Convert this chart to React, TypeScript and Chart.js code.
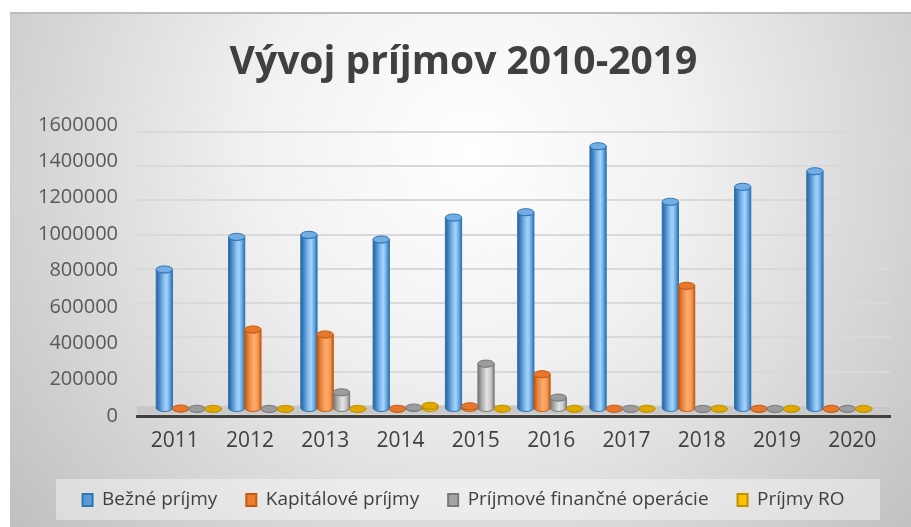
import React, { useEffect, useRef } from 'react';
import { Chart, registerables } from 'chart.js';

Chart.register(...registerables);

const chartTitle = 'Vývoj príjmov 2010-2019';
const categories = ['2011', '2012', '2013', '2014', '2015', '2016', '2017', '2018', '2019', '2020'];
const seriesNames = ['Bežné príjmy', 'Kapitálové príjmy', 'Príjmové finančné operácie', 'Príjmy RO'];
const bezne = [814000, 1004000, 1016000, 989000, 1117000, 1148000, 1533000, 1209000, 1296000, 1387000];
const kapitalove = [3000, 464000, 435000, 1500, 16000, 203000, 2000, 719000, 1500, 1500];
const financne = [1500, 1000, 98000, 8700, 265000, 67000, 1500, 1000, 1000, 1500];
const prijmyRO = [1000, 1000, 1000, 18700, 2000, 1500, 1500, 2000, 1500, 1000];
const yTicks = [0, 200000, 400000, 600000, 800000, 1000000, 1200000, 1400000, 1600000];

const seriesValues = [bezne, kapitalove, financne, prijmyRO];

type Stop = [number, string];
const barStyles: { stops: Stop[]; edge: string; cap: string; legend: string }[] = [
  {
    stops: [[0, '#2a5f95'], [0.18, '#4384c4'], [0.5, '#8fc5f4'], [0.65, '#a3d2fb'], [0.85, '#62a2db'], [1, '#2e6ea8']],
    edge: '#2e75b6', cap: '#72aee3', legend: '#5b9bd5',
  },
  {
    stops: [[0, '#b85410'], [0.2, '#e47e38'], [0.55, '#ffac6e'], [0.8, '#f59a55'], [1, '#c55a11']],
    edge: '#c55a11', cap: '#e8772e', legend: '#ed7d31',
  },
  {
    stops: [[0, '#727272'], [0.2, '#a3a3a3'], [0.55, '#e4e4e4'], [0.8, '#c6c6c6'], [1, '#808080']],
    edge: '#7a7a7a', cap: '#9c9c9c', legend: '#a5a5a5',
  },
  {
    stops: [[0, '#a67c00'], [0.2, '#dba500'], [0.55, '#ffd24d'], [0.8, '#f2b800'], [1, '#b38600']],
    edge: '#bf9000', cap: '#e0a800', legend: '#ffc000',
  },
];

const YMAX = 1600000;
// perspective: back-wall gridlines span a little less than the label axis
const wallTopOffset = 6.7;
const wallBottomOffset = 10;
const labelSpan = 291;
// perspective: columns sit mid-depth, slightly narrower than the category labels
const depthScaleX = 0.96;
const vanishFraction = 0.518;

const bgPlugin = {
  id: 'bgPlugin',
  beforeDraw(chart: any) {
    const { ctx, width, height } = chart;
    ctx.save();
    ctx.fillStyle = '#ffffff';
    ctx.fillRect(0, 0, width, height);
    const g = ctx.createRadialGradient(470, 150, 0, 470, 150, 620);
    g.addColorStop(0, '#ffffff');
    g.addColorStop(0.35, '#f1f1f1');
    g.addColorStop(1, '#bcbcbc');
    ctx.fillStyle = g;
    ctx.fillRect(10, 12, width - 10, height - 12);
    ctx.fillStyle = '#bdbdbd';
    ctx.fillRect(10, 12, width - 10, 2);
    ctx.fillStyle = 'rgba(255,255,255,0.4)';
    ctx.fillRect(56, height - 48, width - 31 - 56, 41);
    ctx.restore();
  },
};

const floorPlugin = {
  id: 'floorPlugin',
  beforeDatasetsDraw(chart: any) {
    const { ctx, chartArea } = chart;
    const p0 = chart.scales.y.getPixelForValue(0);
    ctx.save();
    ctx.fillStyle = '#c8c8c8';
    ctx.fillRect(chartArea.left, p0, chartArea.right - chartArea.left, chartArea.bottom - 1.5 - p0);
    ctx.restore();
  },
};

const barsPlugin = {
  id: 'barsPlugin',
  afterDatasetsDraw(chart: any) {
    const { ctx, chartArea } = chart;
    const cx0 = chartArea.left + (chartArea.right - chartArea.left) * vanishFraction;
    ctx.save();
    chart.data.datasets.forEach((_ds: any, i: number) => {
      const meta = chart.getDatasetMeta(i);
      const st = barStyles[i];
      meta.data.forEach((el: any) => {
        const p = el.getProps(['x', 'y', 'base', 'width'], true);
        const x = cx0 + (p.x - cx0) * depthScaleX;
        const width = p.width * depthScaleX;
        const rx = width / 2;
        const ry = 3.5;
        const dy = 3;
        const top = p.y + dy;
        const bot = p.base + dy;
        const left = x - rx;
        const right = x + rx;
        const g = ctx.createLinearGradient(left, 0, right, 0);
        st.stops.forEach(([o, c]) => g.addColorStop(o, c));
        ctx.beginPath();
        ctx.moveTo(left, top);
        ctx.lineTo(left, bot);
        ctx.ellipse(x, bot, rx, ry, 0, Math.PI, 0, true);
        ctx.lineTo(right, top);
        ctx.ellipse(x, top, rx, ry, 0, 0, Math.PI, false);
        ctx.closePath();
        ctx.fillStyle = g;
        ctx.fill();
        ctx.lineWidth = 1;
        ctx.strokeStyle = st.edge;
        ctx.stroke();
        ctx.beginPath();
        ctx.ellipse(x, top, rx, ry, 0, 0, Math.PI * 2);
        ctx.fillStyle = st.cap;
        ctx.fill();
        ctx.stroke();
      });
    });
    ctx.restore();
  },
};

export default function App() {
  const canvasRef = useRef<HTMLCanvasElement | null>(null);

  useEffect(() => {
    if (!canvasRef.current) return;
    Chart.defaults.font.family = "'Open Sans', sans-serif";
    const wallRange = (YMAX * labelSpan) / (labelSpan - wallTopOffset - wallBottomOffset);
    const wallMin = -(wallBottomOffset / labelSpan) * wallRange;
    const wallMax = wallMin + wallRange;
    const setTicks = (s: any) => {
      s.ticks = yTicks.map((v) => ({ value: v }));
    };

    const chart = new Chart(canvasRef.current, {
      type: 'bar',
      data: {
        labels: categories,
        datasets: seriesValues.map((d, i) => ({
          label: seriesNames[i],
          data: d,
          backgroundColor: 'rgba(0,0,0,0)',
          borderWidth: 0,
          categoryPercentage: 0.9,
          barPercentage: 1.0,
          yAxisID: 'y',
        })),
      },
      options: {
        responsive: false,
        animation: false,
        events: [],
        layout: { padding: { left: 37, right: 21, top: 12, bottom: 7.5 } },
        plugins: {
          title: {
            display: true,
            text: chartTitle,
            color: '#404040',
            font: { size: 39, weight: 'bold', family: "'Open Sans', sans-serif" },
            padding: { top: 27, bottom: 39.2 },
          },
          legend: {
            position: 'bottom',
            labels: {
              boxWidth: 10,
              boxHeight: 12,
              padding: 29,
              color: '#404040',
              font: { size: 19 },
              generateLabels: () =>
                seriesNames.map((n, i) => ({
                  text: n,
                  fillStyle: barStyles[i].legend,
                  strokeStyle: barStyles[i].edge,
                  lineWidth: 2,
                  hidden: false,
                  datasetIndex: i,
                  fontColor: '#404040',
                })),
            },
          },
          tooltip: { enabled: false },
        },
        scales: {
          x: {
            grid: { display: false, drawTicks: false },
            border: { display: true, color: '#404040', width: 3 },
            ticks: { color: '#404040', font: { size: 21 }, padding: 12 },
            afterFit(s: any) {
              s.height = 45.5;
            },
          },
          y: {
            position: 'left',
            min: wallMin,
            max: wallMax,
            afterBuildTicks: setTicks,
            ticks: { display: false },
            grid: { color: '#d9d9d9', lineWidth: 2, drawTicks: false },
            border: { display: false },
            afterFit(s: any) {
              s.width = 0;
            },
          },
          yl: {
            position: 'left',
            min: 0,
            max: YMAX,
            afterBuildTicks: setTicks,
            ticks: { color: '#595959', font: { size: 20 }, padding: 19, callback: (v: any) => String(v) },
            grid: { display: false, drawTicks: false },
            border: { display: false },
            afterFit(s: any) {
              s.width = 100;
            },
          },
        },
      } as any,
      plugins: [bgPlugin, floorPlugin, barsPlugin],
    });
    return () => chart.destroy();
  }, []);

  return (
    <div style={{ position: 'fixed', left: 0, top: 0, width: 911, height: 527 }}>
      <canvas ref={canvasRef} width={911} height={527} style={{ display: 'block' }} />
    </div>
  );
}
